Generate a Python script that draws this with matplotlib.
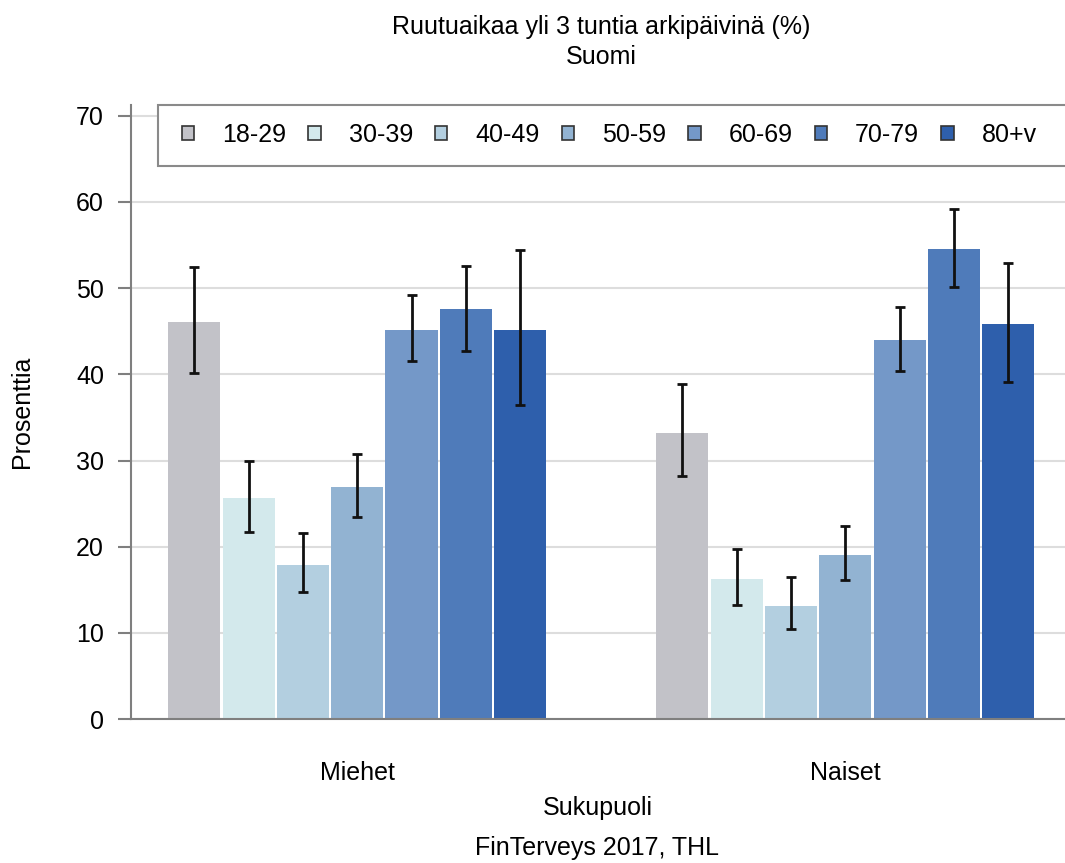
import numpy as np
import matplotlib.pyplot as plt
from matplotlib.patches import Rectangle

plt.rcParams['font.family'] = ['Liberation Sans', 'DejaVu Sans']

# Data
groups = ['Miehet', 'Naiset']
ages = ['18-29', '30-39', '40-49', '50-59', '60-69', '70-79', '80+v']
colors = ['#c2c2c8', '#d3e9ec', '#b3cfe0', '#92b3d2', '#7498c8', '#4f7bba', '#2e5fac']

miehet = [46.1, 25.6, 17.9, 26.9, 45.2, 47.6, 45.2]
miehet_lo = [40.2, 21.7, 14.7, 23.5, 41.5, 42.7, 36.4]
miehet_hi = [52.5, 30.0, 21.6, 30.8, 49.2, 52.6, 54.4]

naiset = [33.2, 16.2, 13.1, 19.0, 44.0, 54.5, 45.8]
naiset_lo = [28.2, 13.2, 10.5, 16.1, 40.4, 50.1, 39.1]
naiset_hi = [38.9, 19.7, 16.5, 22.4, 47.8, 59.2, 52.9]

values = np.array([miehet, naiset])
lows = np.array([miehet_lo, naiset_lo])
highs = np.array([miehet_hi, naiset_hi])

fs = 18

fig = plt.figure(figsize=(10.65, 8.63), dpi=100)
ax = fig.add_axes([0.123, 0.1668, 0.877, 0.711])

x = np.arange(len(groups))
stride = 0.1112
width = 0.1066
for i, (age, col) in enumerate(zip(ages, colors)):
    pos = x + (i - 3) * stride
    v = values[:, i]
    err = [v - lows[:, i], highs[:, i] - v]
    ax.bar(pos, v, width, color=col, label=age, zorder=2)
    ax.errorbar(pos, v, yerr=err, fmt='none', ecolor='#111111',
                elinewidth=2, capsize=3.8, capthick=2, zorder=3)

ax.set_xlim(-0.4636, 1.4503)
ax.set_ylim(0, 71.2)
ax.set_yticks(range(0, 71, 10))
ax.set_xticks(x)
ax.set_xticklabels(groups)
ax.yaxis.grid(True, color='#dddddd', linewidth=1.5, zorder=0)
ax.set_axisbelow(True)

for s in ['top', 'right']:
    ax.spines[s].set_visible(False)
for s in ['left', 'bottom']:
    ax.spines[s].set_color('#7f7f7f')
    ax.spines[s].set_linewidth(1.5)
ax.tick_params(axis='y', length=9.5, width=1.5, color='#7f7f7f',
               labelsize=fs, pad=10)
ax.tick_params(axis='x', length=0, labelsize=fs, pad=30)

ax.set_ylabel('Prosenttia', fontsize=fs, labelpad=30)
ax.set_xlabel('Sukupuoli', fontsize=fs, labelpad=8)

fig.text(601 / 1065, 1 - 27 / 863, 'Ruutuaikaa yli 3 tuntia arkipäivinä (%)',
         ha='center', va='center', fontsize=fs)
fig.text(601 / 1065, 1 - 57 / 863, 'Suomi', ha='center', va='center', fontsize=fs)
fig.text(597 / 1065, 1 - 848 / 863, 'FinTerveys 2017, THL',
         ha='center', va='center', fontsize=fs)

# Legend box
fig.patches.append(Rectangle((158 / 1065, 1 - 166 / 863), 0.9, 61 / 863,
                             transform=fig.transFigure, facecolor='white',
                             edgecolor='#8a8a8a', linewidth=1.5, zorder=4))
leg = fig.legend(loc='center left', bbox_to_anchor=(169 / 1065, 1 - 135 / 863),
                 ncol=7, frameon=False, fontsize=fs, borderpad=0,
                 handlelength=0.5, handleheight=0.5, handletextpad=1.12,
                 columnspacing=0.88)
leg.set_zorder(5)
for h in leg.legend_handles:
    h.set_edgecolor('#333333')
    h.set_linewidth(1.2)

plt.savefig('out.png', dpi=100)
